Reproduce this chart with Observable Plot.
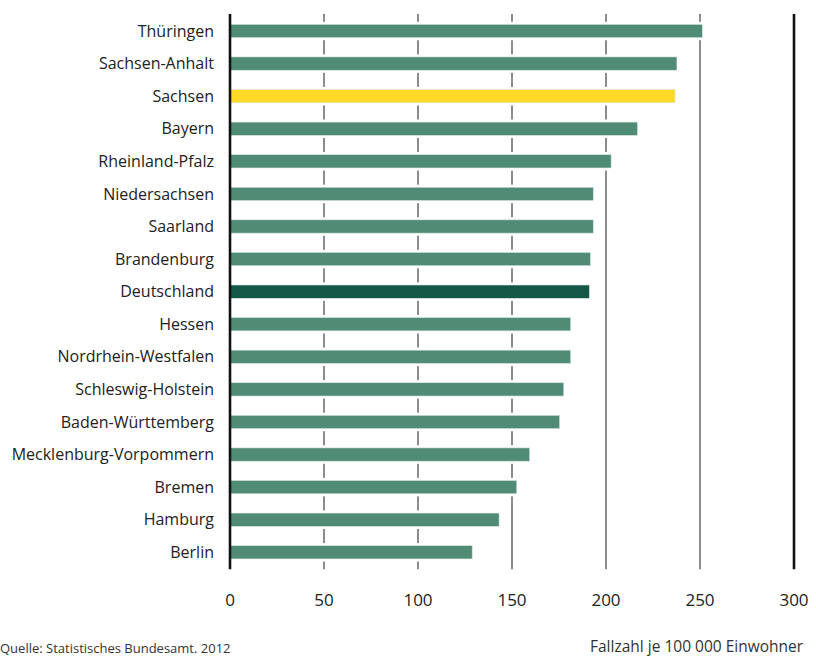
<!DOCTYPE html>
<html>
<head>
<meta charset="utf-8">
<script src="https://cdn.jsdelivr.net/npm/d3@7"></script>
<script src="https://cdn.jsdelivr.net/npm/@observablehq/plot@0.6"></script>
<style>
  html, body { margin: 0; padding: 0; background: #fff; }
  #wrap { position: relative; width: 816px; height: 657px; overflow: hidden; font-family: "Open Sans", sans-serif; }
  #source { position: absolute; left: 0; top: 642px; font-size: 13px; line-height: 1; color: #333; white-space: nowrap; }
  #unit { position: absolute; left: 590px; top: 637px; font-size: 15.5px; line-height: 1.2; color: #333; white-space: nowrap; }
</style>
</head>
<body>
<div id="wrap">
  <div id="chart"></div>
  <div id="source">Quelle: Statistisches Bundesamt. 2012</div>
  <div id="unit">Fallzahl je 100 000 Einwohner</div>
</div>
<script>
const states = ["Thüringen","Sachsen-Anhalt","Sachsen","Bayern","Rheinland-Pfalz","Niedersachsen","Saarland","Brandenburg","Deutschland","Hessen","Nordrhein-Westfalen","Schleswig-Holstein","Baden-Württemberg","Mecklenburg-Vorpommern","Bremen","Hamburg","Berlin"];
const values = [251.5, 238, 237, 217, 203, 193.5, 193.5, 192, 191.4, 181.5, 181.5, 177.8, 175.6, 159.7, 152.8, 143.4, 129.1];
const kinds = ["land","land","highlight","land","land","land","land","land","total","land","land","land","land","land","land","land","land"];
const xTicks = [0, 50, 100, 150, 200, 250, 300];
const gridTicks = [50, 100, 150, 200, 250];
const frameTicks = [0, 300];

const data = states.map((s, i) => ({state: s, value: values[i], kind: kinds[i]}));
const colorOf = {land: "#508c75", highlight: "#ffd928", total: "#145746"};

const chart = Plot.plot({
  width: 816,
  height: 625,
  marginLeft: 229.5,
  marginRight: 22.5,
  marginTop: 14,
  marginBottom: 55.7,
  style: {fontFamily: "Open Sans, sans-serif", fontSize: "16px", color: "#222"},
  x: {domain: [0, 300], axis: null},
  y: {domain: states, paddingInner: 0.592, paddingOuter: 0.318, round: false, axis: null},
  marks: [
    Plot.ruleX(gridTicks, {stroke: "#8c8c90", strokeWidth: 2}),
    Plot.barX(data, {y: "state", x: "value", fill: "white", insetTop: -2.6, insetBottom: -2.6}),
    Plot.barX(data, {y: "state", x: "value", fill: d => colorOf[d.kind], stroke: "#d8e6df", strokeWidth: 0.6}),
    Plot.ruleX(frameTicks, {stroke: "#111", strokeWidth: 2.6}),
    Plot.axisY({tickSize: 0, tickPadding: 16, fontSize: 16, label: null}),
    Plot.axisX({ticks: xTicks, tickSize: 0, tickPadding: 24, fontSize: 17, label: null, tickFormat: d => String(d)})
  ]
});
document.getElementById("chart").appendChild(chart);
</script>
</body>
</html>
